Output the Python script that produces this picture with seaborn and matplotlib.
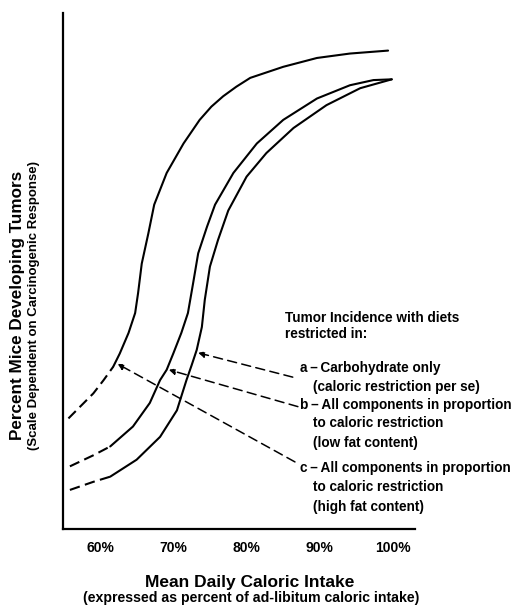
import matplotlib
matplotlib.use("Agg")
import matplotlib.pyplot as plt
import seaborn as sns
import numpy as np
import pandas as pd

# ---------------- data ----------------
# curve a (leftmost)
a_dash_x = [55.7, 57.5, 59.1, 60.5, 61.8]
a_dash_y = [1.50, 1.68, 1.84, 2.02, 2.20]
a_x = [61.8, 62.7, 63.9, 64.8, 65.2, 65.7, 66.6, 67.4, 69.1, 71.4, 73.6, 75.2, 76.8, 78.6, 80.5, 85.0, 89.6, 94.1, 99.3]
a_y = [2.20, 2.38, 2.66, 2.93, 3.20, 3.60, 4.01, 4.40, 4.83, 5.23, 5.55, 5.73, 5.87, 6.00, 6.12, 6.27, 6.39, 6.45, 6.49]

# curve b (middle)
b_dash_x = [55.9, 59.1, 61.4]
b_dash_y = [0.85, 1.00, 1.12]
b_x = [61.4, 64.5, 66.8, 68.2, 69.1, 70.0, 71.1, 72.0, 72.7, 73.4, 74.6, 75.7, 78.2, 81.4, 85.0, 89.6, 94.1, 97.3, 99.8]
b_y = [1.12, 1.39, 1.71, 2.02, 2.16, 2.38, 2.66, 2.93, 3.33, 3.74, 4.10, 4.40, 4.83, 5.23, 5.55, 5.84, 6.02, 6.09, 6.10]

# curve c (rightmost)
c_dash_x = [55.9, 59.1, 61.4]
c_dash_y = [0.53, 0.64, 0.71]
c_x = [61.4, 65.0, 68.2, 70.5, 71.1, 71.8, 72.5, 73.2, 73.9, 74.3, 75.0, 76.1, 77.5, 80.0, 82.7, 86.4, 90.9, 95.5, 99.8]
c_y = [0.71, 0.94, 1.25, 1.61, 1.80, 2.02, 2.22, 2.43, 2.74, 3.11, 3.56, 3.92, 4.32, 4.78, 5.10, 5.44, 5.75, 5.98, 6.10]

x_ticks = [60, 70, 80, 90, 100]
x_tick_labels = ["60%", "70%", "80%", "90%", "100%"]
y_ticks = [1, 2, 3, 4, 5, 6]

# annotation arrows: label (tail) -> curve (tip)
arrow_tail_x = [86.3, 87.0, 86.6]
arrow_tail_y = [2.06, 1.66, 0.91]
arrow_tip_x = [73.4, 69.4, 62.4]
arrow_tip_y = [2.39, 2.16, 2.24]

legend_items = [
    ("a", "Carbohydrate only", ["(caloric restriction per se)"]),
    ("b", "All components in proportion", ["to caloric restriction", "(low fat content)"]),
    ("c", "All components in proportion", ["to caloric restriction", "(high fat content)"]),
]

# ---------------- figure ----------------
sns.set_style("white")
FONT = ["Liberation Sans", "DejaVu Sans"]
plt.rcParams["font.family"] = FONT
plt.rcParams["font.weight"] = "bold"
plt.rcParams["text.color"] = "black"
plt.rcParams["xtick.color"] = "black"
plt.rcParams["ytick.color"] = "black"

W, H = 517, 613
fig = plt.figure(figsize=(W / 100, H / 100), dpi=100)
ax = fig.add_axes([63.3 / W, (H - 529) / H, (415.2 - 63.3) / W, (529 - 13) / H])

lw = 1.5
dash = (0, (5, 2.6))
for sx, sy in [(a_x, a_y), (b_x, b_y), (c_x, c_y)]:
    sns.lineplot(x=sx, y=sy, ax=ax, color="black", lw=lw, sort=False, estimator=None,
                 solid_joinstyle="round", solid_capstyle="round")
for sx, sy in [(a_dash_x, a_dash_y), (b_dash_x, b_dash_y), (c_dash_x, c_dash_y)]:
    sns.lineplot(x=sx, y=sy, ax=ax, color="black", lw=lw, sort=False, estimator=None, linestyle=dash)

for tx, ty, hx, hy in zip(arrow_tail_x, arrow_tail_y, arrow_tip_x, arrow_tip_y):
    ax.annotate("", xy=(hx, hy), xytext=(tx, ty),
                arrowprops=dict(arrowstyle="-|>", color="black", lw=1.1,
                                linestyle=(0, (6, 3.5)), mutation_scale=9,
                                shrinkA=0, shrinkB=0))

ax.set_xlim(55, 103)
ax.set_ylim(0, 7)
ax.set_xticks(x_ticks)
ax.set_xticklabels(x_tick_labels, fontsize=10, fontweight="bold", color="black")
ax.set_yticks(y_ticks)
ax.set_yticklabels([])
ax.tick_params(axis="x", direction="in", length=7, width=1.4, pad=9, colors="black")
ax.tick_params(axis="y", direction="in", length=7.5, width=1.4, colors="black")
for s in ["top", "right"]:
    ax.spines[s].set_visible(False)
for s in ["left", "bottom"]:
    ax.spines[s].set_color("black")
    ax.spines[s].set_linewidth(1.6)

# legend text block (figure pixel coordinates)
def fx(px):
    return px / W

def fy(py):
    return 1 - py / H

TS = 9.8
fig.text(fx(285), fy(318), "Tumor Incidence with diets", fontsize=TS, fontweight="bold", va="center", ha="left")
fig.text(fx(285), fy(334), "restricted in:", fontsize=TS, fontweight="bold", va="center", ha="left")
rows = [368, 405, 468]
sub_rows = [[387], [423, 443], [487, 507]]
for (letter, head, subs), r, srs in zip(legend_items, rows, sub_rows):
    fig.text(fx(300), fy(r), f"{letter}\u2009\u2013\u2009{head}", fontsize=TS, fontweight="bold", va="center", ha="left")
    for s, sr in zip(subs, srs):
        fig.text(fx(313), fy(sr), s, fontsize=TS, fontweight="bold", va="center", ha="left")

# axis labels
fig.text(fx(250), fy(582), "Mean Daily Caloric Intake", fontsize=12.5, fontweight="bold", ha="center", va="center")
fig.text(fx(251), fy(598), "(expressed as percent of ad-libitum caloric intake)", fontsize=10.2, fontweight="bold", ha="center", va="center")
fig.text(fx(18), fy(305), "Percent Mice Developing Tumors", fontsize=12.3, fontweight="bold", rotation=90, ha="center", va="center")
fig.text(fx(34), fy(306), "(Scale Dependent on Carcinogenic Response)", fontsize=9.5, fontweight="bold", rotation=90, ha="center", va="center")

fig.savefig("out.png", dpi=100, facecolor="white")
